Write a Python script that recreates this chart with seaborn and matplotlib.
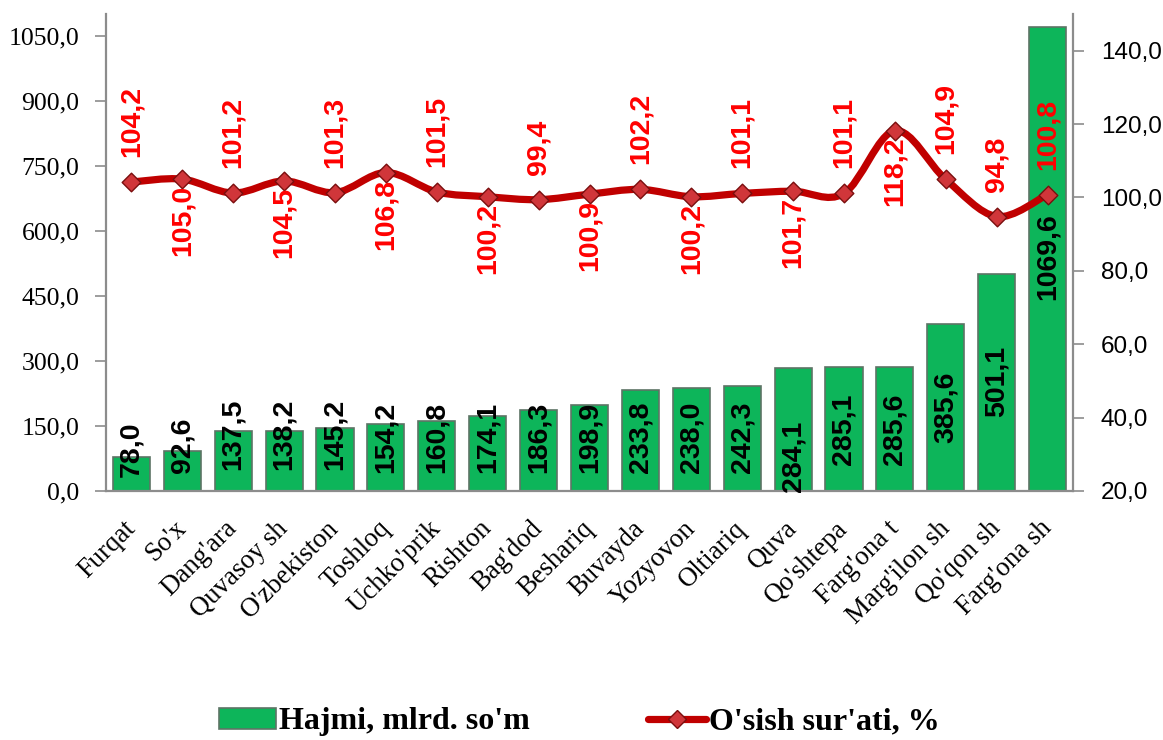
import numpy as np
import pandas as pd
import matplotlib
matplotlib.use("Agg")
import matplotlib.pyplot as plt
import seaborn as sns
from matplotlib.path import Path
from matplotlib.patches import PathPatch, Patch
from matplotlib.lines import Line2D
import matplotlib.transforms as mtransforms

# ---------------- data ----------------
categories = ["Furqat", "So'x", "Dang'ara", "Quvasoy sh", "O'zbekiston", "Toshloq",
              "Uchko'prik", "Rishton", "Bag'dod", "Beshariq", "Buvayda", "Yozyovon",
              "Oltiariq", "Quva", "Qo'shtepa", "Farg'ona t", "Marg'ilon sh",
              "Qo'qon sh", "Farg'ona sh"]
volume = [78.0, 92.6, 137.5, 138.2, 145.2, 154.2, 160.8, 174.1, 186.3, 198.9,
          233.8, 238.0, 242.3, 284.1, 285.1, 285.6, 385.6, 501.1, 1069.6]
growth = [104.2, 105.0, 101.2, 104.5, 101.3, 106.8, 101.5, 100.2, 99.4, 100.9,
          102.2, 100.2, 101.1, 101.7, 101.1, 118.2, 104.9, 94.8, 100.8]
left_ticks = [0, 150, 300, 450, 600, 750, 900, 1050]
right_ticks = [20, 40, 60, 80, 100, 120, 140]
series_names = ["Hajmi, mlrd. so'm", "O'sish sur'ati, %"]

# layout helpers (label placement, not data)
growth_label_above = [True, False, True, False, True, False, True, False, True, False,
                      True, False, True, False, True, False, True, True, True]
bar_label_base = [32, 41, 48, 48, 48, 41, 41, 41, 41, 41, 41, 41, 41, -2, 60, 60, 111, 170, 440]

def fmt(v):
    return f"{v:.1f}".replace(".", ",")

# ---------------- style ----------------
sns.set_style("white")
plt.rcParams["font.family"] = ["Liberation Serif", "DejaVu Sans"]
plt.rcParams["text.color"] = "black"

W, H = 1163, 740
fig = plt.figure(figsize=(W / 100, H / 100), dpi=100)
ax = fig.add_axes([106 / W, 1 - 491 / H, (1073 - 106) / W, (491 - 14) / H])

df = pd.DataFrame({"cat": categories, "vol": volume})
bar_green = "#0DB55A"
sns.barplot(data=df, x="cat", y="vol", ax=ax, color=bar_green, saturation=1,
            width=0.73, edgecolor="#5E7466", linewidth=1.2, zorder=2)

ax.set_xlim(-0.5, len(categories) - 0.5)
ax.set_ylim(0, 1100)
ax.set_yticks(left_ticks)
ax.set_yticklabels([fmt(t) for t in left_ticks], fontsize=18.5,
                   family=["Liberation Serif"], color="black")
ax.set_xlabel("")
ax.set_ylabel("")

# x ticks: labels at centers, marks at category boundaries
ax.set_xticks(range(len(categories)))
ax.set_xticklabels(categories, rotation=45, ha="right", va="top", rotation_mode="default",
                   fontsize=19.3, family=["Liberation Serif"], color="black")
ax.set_xticks(np.arange(-0.5, len(categories), 1.0), minor=True)
ax.tick_params(axis="x", which="major", length=0, pad=18)
ax.tick_params(axis="x", which="minor", length=7, width=1.2, color="#8C8C8C", direction="out")
ax.tick_params(axis="y", length=8, width=1.2, color="#8C8C8C", direction="out", pad=11)

# shift rotated category labels slightly right (after tick_params, which resets transforms)
offset = mtransforms.ScaledTranslation(9 / 100, 0, fig.dpi_scale_trans)
for tick in ax.xaxis.get_major_ticks():
    tick.label1.set_transform(tick.label1.get_transform() + offset)

for side in ["top", "right"]:
    ax.spines[side].set_visible(False)
for side in ["left", "bottom"]:
    ax.spines[side].set_color("#8C8C8C")
    ax.spines[side].set_linewidth(1.6)

# bar labels
for i, v in enumerate(volume):
    ax.text(i, bar_label_base[i], fmt(v), rotation=90, ha="center", va="bottom",
            fontsize=20.5, fontweight="bold", family=["Liberation Sans"],
            color="black", zorder=5)

# ---------------- secondary axis: growth ----------------
ax2 = ax.twinx()
ax2.set_ylim(20, 150)
ax2.set_yticks(right_ticks)
ax2.set_yticklabels([fmt(t) for t in right_ticks], fontsize=17.5,
                    family=["Liberation Sans"], color="black")
ax2.tick_params(axis="y", length=8, width=1.2, color="#8C8C8C", direction="out", pad=12)
for side in ["top", "left", "bottom"]:
    ax2.spines[side].set_visible(False)
ax2.spines["right"].set_color("#8C8C8C")
ax2.spines["right"].set_linewidth(1.6)

# smooth line (Bezier through the data points, like Excel's smoothed line)
line_red = "#C00000"
P = np.column_stack([np.arange(len(growth), dtype=float), np.array(growth, dtype=float)])
verts = [tuple(P[0])]
codes = [Path.MOVETO]
n = len(P)
for i in range(n - 1):
    p0 = P[i - 1] if i > 0 else P[i]
    p3 = P[i + 2] if i + 2 < n else P[i + 1]
    c1 = P[i] + (P[i + 1] - p0) / 6.0
    c2 = P[i + 1] - (p3 - P[i]) / 6.0
    verts += [tuple(c1), tuple(c2), tuple(P[i + 1])]
    codes += [Path.CURVE4] * 3
ax2.add_patch(PathPatch(Path(verts, codes), facecolor="none", edgecolor=line_red,
                        lw=5.2, capstyle="round", joinstyle="round", zorder=3))

gdf = pd.DataFrame({"x": np.arange(len(growth)), "g": growth})
sns.scatterplot(data=gdf, x="x", y="g", ax=ax2, marker="D", s=90,
                color="#D0363A", edgecolor="#7A0E0E", linewidth=1.0, zorder=4, legend=False)
ax2.set_xlabel("")
ax2.set_ylabel("")
ax2.set_xlim(-0.5, len(categories) - 0.5)

for i, g in enumerate(growth):
    if growth_label_above[i]:
        ax2.annotate(fmt(g), (i, g), xytext=(0, 25), textcoords="offset pixels",
                     rotation=90, ha="center", va="bottom", fontsize=20.5,
                     fontweight="bold", family=["Liberation Sans"], color="#FF0000", zorder=6)
    else:
        ax2.annotate(fmt(g), (i, g), xytext=(0, -6), textcoords="offset pixels",
                     rotation=90, ha="center", va="top", fontsize=20.5,
                     fontweight="bold", family=["Liberation Sans"], color="#FF0000", zorder=6)

# ---------------- legend ----------------
handles = [
    Patch(facecolor=bar_green, edgecolor="#5E7466", linewidth=1.2),
    Line2D([0], [0], color=line_red, lw=5.2, marker="D", markersize=9,
           markerfacecolor="#D0363A", markeredgecolor="#7A0E0E"),
]
leg = fig.legend(handles, series_names, loc="center", bbox_to_anchor=(0.498, 1 - 722 / H),
                 ncol=2, frameon=False, handlelength=1.8, handleheight=0.65, handletextpad=0.1,
                 columnspacing=3.7,
                 prop={"family": "Liberation Serif", "weight": "bold", "size": 23})
for t in leg.get_texts():
    t.set_color("black")

fig.savefig("out.png", dpi=100)
